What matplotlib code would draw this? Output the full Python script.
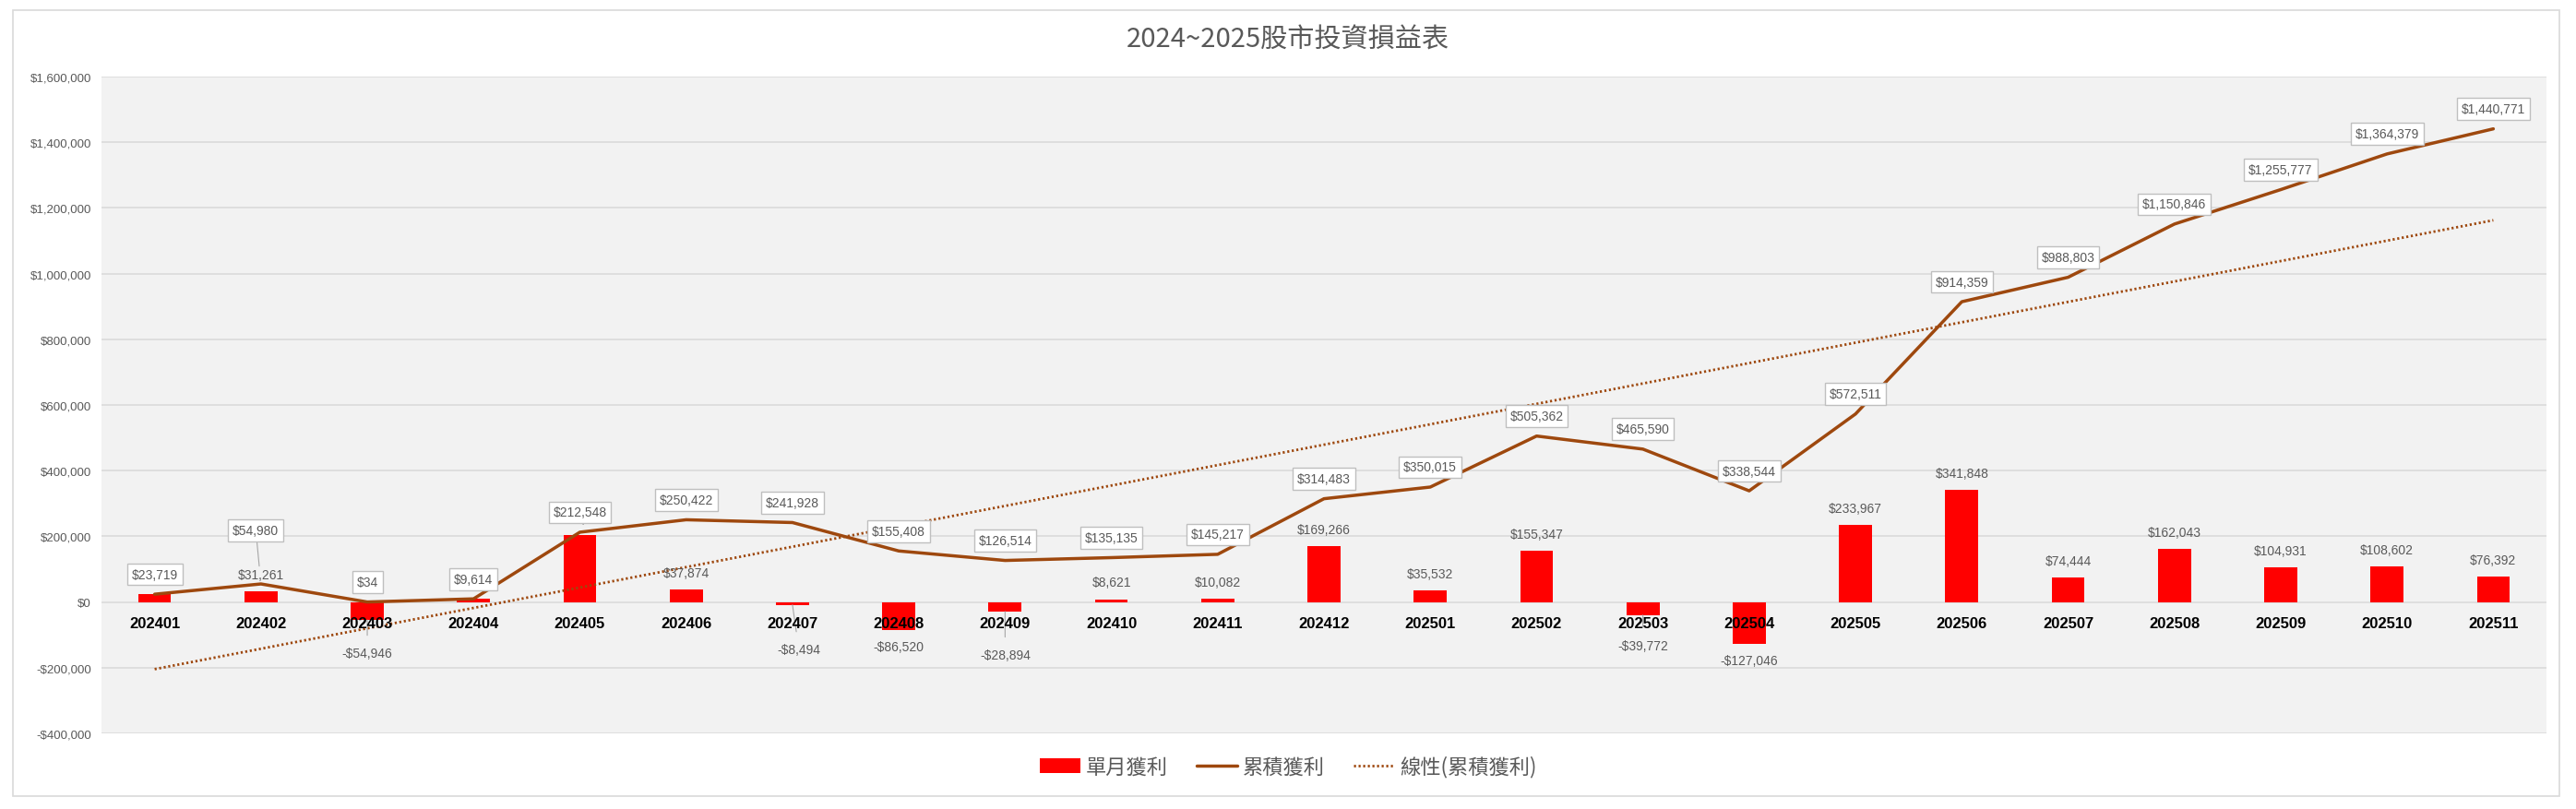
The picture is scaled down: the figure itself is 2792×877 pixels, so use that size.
import numpy as np
import matplotlib.pyplot as plt
from matplotlib.patches import Rectangle
from matplotlib.ticker import FuncFormatter

# Data
months = ['202401', '202402', '202403', '202404', '202405', '202406',
          '202407', '202408', '202409', '202410', '202411', '202412',
          '202501', '202502', '202503', '202504', '202505', '202506',
          '202507', '202508', '202509', '202510', '202511']
monthly = [23719, 31261, -54946, 9580, 202934, 37874,
           -8494, -86520, -28894, 8621, 10082, 169266,
           35532, 155347, -39772, -127046, 233967, 341848,
           74444, 162043, 104931, 108602, 76392]
cumulative = [23719, 54980, 34, 9614, 212548, 250422,
              241928, 155408, 126514, 135135, 145217, 314483,
              350015, 505362, 465590, 338544, 572511, 914359,
              988803, 1150846, 1255777, 1364379, 1440771]

title = '2024~2025股市投資損益表'
legend_labels = ['單月獲利', '累積獲利', '線性(累積獲利)']

# hand-moved labels (offsets in points), like in the original sheet
monthly_moved = {2: (0, -26), 6: (5, -35), 8: (0, -34), 14: (0, -24)}
cum_moved = {1: (-4, 42)}

plt.rcParams['font.family'] = ['Liberation Sans', 'Noto Sans CJK TC', 'DejaVu Sans']

BROWN = '#9E480E'
GRAY_TXT = '#595959'

fig = plt.figure(figsize=(27.92, 8.78), dpi=100)
fig.patches.append(Rectangle((14 / 2792, 14 / 878), 2760 / 2792, 852 / 878,
                             transform=fig.transFigure, fill=False,
                             edgecolor='#D9D9D9', linewidth=1.2))

ax = fig.add_axes([110 / 2792, 82 / 878, 2650 / 2792, 712 / 878])
ax.set_facecolor('#F2F2F2')
x = np.arange(len(months))

bars = ax.bar(x, monthly, width=0.31, color='#FF0000', zorder=2)
line, = ax.plot(x, cumulative, color=BROWN, linewidth=2.5,
                solid_joinstyle='round', solid_capstyle='round', zorder=3)

# linear trend of the cumulative series
k, b = np.polyfit(x, cumulative, 1)
trend, = ax.plot(x, k * x + b, color=BROWN, linestyle=(0, (0.8, 1.0)),
                 linewidth=2.0, zorder=3)

ax.set_xlim(-0.5, len(months) - 0.5)
ax.set_ylim(-400000, 1600000)
ax.set_yticks(np.arange(-400000, 1600001, 200000))
ax.yaxis.set_major_formatter(FuncFormatter(
    lambda v, p: ('-$' if v < 0 else '$') + f'{abs(int(v)):,}'))
ax.tick_params(axis='y', length=0, labelsize=9.5, labelcolor=GRAY_TXT, pad=8)
ax.set_xticks([])
ax.set_axisbelow(True)
ax.grid(axis='y', color='#D9D9D9', linewidth=1.1)
for s in ax.spines.values():
    s.set_visible(False)

# category labels sit on the zero line
for i, m in enumerate(months):
    ax.annotate(m, (i, 0), xytext=(0, -11), textcoords='offset points',
                ha='center', va='top', fontsize=12, fontweight='bold',
                color='black', zorder=6)

# monthly labels
for i, v in enumerate(monthly):
    txt = ('-$' if v < 0 else '$') + f'{abs(v):,}'
    if i in monthly_moved:
        off = monthly_moved[i]
        ax.annotate(txt, (i, v), xytext=off, textcoords='offset points',
                    ha='center', va='center', fontsize=10, color=GRAY_TXT,
                    zorder=4,
                    arrowprops=dict(arrowstyle='-', color='#A6A6A6', lw=0.8,
                                    shrinkA=7, shrinkB=0))
    else:
        off = (0, 13) if v >= 0 else (0, -13)
        ax.annotate(txt, (i, v), xytext=off, textcoords='offset points',
                    ha='center', va='center', fontsize=10, color=GRAY_TXT,
                    zorder=4)

# cumulative labels in boxes
box = dict(boxstyle='square,pad=0.35', fc='white', ec='#BFBFBF', lw=1)
for i, v in enumerate(cumulative):
    txt = f'${v:,}'
    if i in cum_moved:
        ax.annotate(txt, (i, v), xytext=cum_moved[i], textcoords='offset points',
                    ha='center', va='center', fontsize=10, color=GRAY_TXT,
                    bbox=box, zorder=5,
                    arrowprops=dict(arrowstyle='-', color='#A6A6A6', lw=0.8,
                                    shrinkA=0, shrinkB=14))
    else:
        ax.annotate(txt, (i, v), xytext=(0, 15.5), textcoords='offset points',
                    ha='center', va='center', fontsize=10, color=GRAY_TXT,
                    bbox=box, zorder=5)

fig.text(0.5, 1 - 44 / 878, title, ha='center', va='center', fontsize=21,
         color=GRAY_TXT, family=['Noto Sans CJK TC', 'DejaVu Sans'])

leg = fig.legend([bars, line, trend], legend_labels, loc='center',
                 bbox_to_anchor=(0.5, 1 - 832 / 878), ncol=3, frameon=False,
                 handlelength=2.0, handletextpad=0.25,
                 columnspacing=1.4, labelcolor=GRAY_TXT,
                 prop={'family': ['Noto Sans CJK TC', 'DejaVu Sans'], 'size': 16})

fig.savefig('out.png', dpi=100, facecolor='white')
